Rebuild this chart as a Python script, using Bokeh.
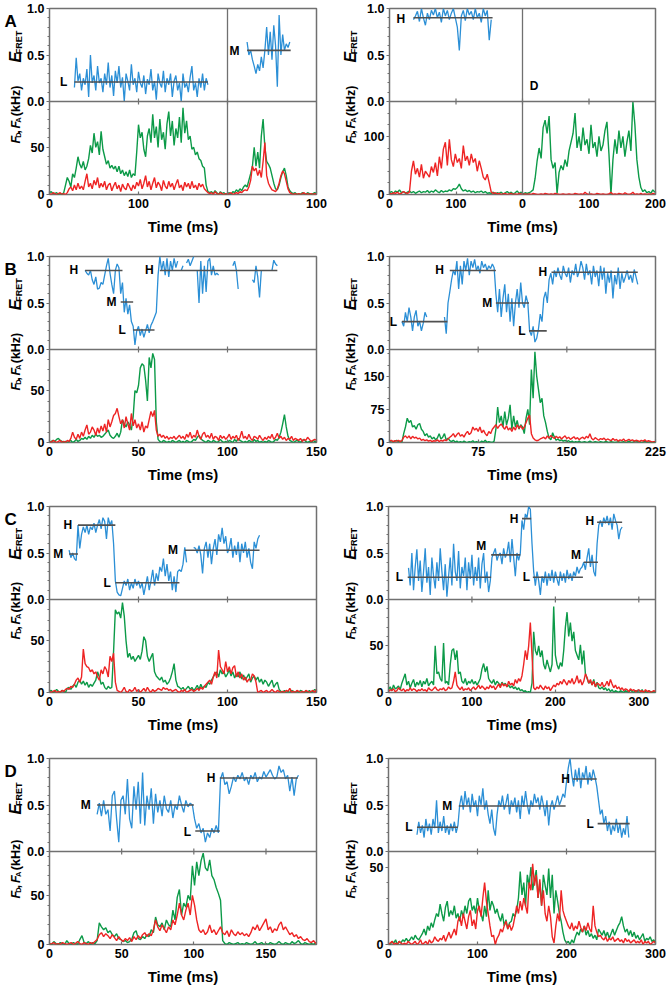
import numpy as np
from bokeh.plotting import figure
from bokeh.layouts import column, row
from bokeh.models import (FixedTicker, Span, CustomJSTickFormatter, Range1d)
from bokeh.embed import file_html
from bokeh.resources import INLINE
from bokeh.core.properties import value

FONT = "Liberation Sans"
BLUE = "#2b8fd6"
GREEN = "#0c9a48"
RED = "#ee2424"
FRAME = "#707070"
LEVEL = "#505050"

# ------------------------------------------------------------------ data
# ---- A, left (two bursts on one broken axis: 0-200 | 0-100) ----
A1_DT = 2.0
A1_E_T0 = 28.0
A1_GREEN = [2, 3, 1, 1, 2, 0, 1, 0, 2, 10,
            18, 14, 8, 22, 18, 28, 40, 32, 28, 35,
            26, 30, 38, 52, 44, 65, 50, 56, 42, 67,
            48, 40, 32, 36, 28, 31, 27, 30, 24, 30,
            22, 26, 20, 24, 19, 26, 18, 22, 20, 45,
            74, 60, 66, 48, 40, 62, 70, 55, 85, 60,
            72, 50, 80, 58, 66, 48, 75, 88, 62, 78,
            52, 70, 60, 82, 55, 92, 65, 78, 58, 62,
            48, 50, 42, 45, 38, 36, 30, 28, 10, 3,
            2, 3, 1, 4, 2, 0, 3, 1, 2, 0,
            1, 2, 0, 3, 2, 5, 3, 6, 4, 8,
            10, 8, 15, 22, 30, 50, 30, 45, 28, 62,
            80, 50, 35, 32, 28, 20, 12, 6, 5, 10,
            18, 24, 28, 20, 8, 4, 2, 1, 2, 0,
            1, 0, 2, 1, 0, 2, 1, 0, 1, 2,
            1]
A1_RED = [1, 0, 2, 1, 0, 1, 2, 0, 1, 0,
          2, 6, 8, 4, 10, 5, 12, 6, 9, 5,
          14, 22, 8, 12, 6, 15, 10, 18, 7, 12,
          8, 14, 5, 10, 12, 4, 9, 13, 6, 10,
          3, 11, 7, 5, 12, 8, 4, 10, 6, 13,
          9, 16, 6, 12, 20, 8, 14, 5, 12, 18,
          7, 13, 10, 4, 15, 9, 6, 14, 8, 12,
          5, 11, 16, 7, 10, 4, 13, 8, 12, 6,
          14, 7, 10, 5, 12, 8, 11, 6, 4, 2,
          1, 2, 0, 3, 1, 0, 2, 1, 0, 1,
          0, 1, 2, 0, 1, 2, 1, 3, 2, 4,
          5, 4, 8, 15, 30, 25, 28, 20, 26, 18,
          35, 55, 20, 12, 8, 5, 4, 3, 6, 12,
          20, 25, 22, 14, 6, 2, 1, 0, 1, 0,
          1, 0, 1, 2, 0, 1, 0, 1, 0, 1,
          0]
A1_EFRET = ([0.15, 0.47, 0.22, 0.30, 0.12, 0.25, 0.18, 0.35, 0.05, 0.50,
             0.20, 0.28, 0.12, 0.38, 0.20, 0.25, 0.10, 0.30, 0.18, 0.42,
             0.15, 0.28, 0.06, 0.33, 0.20, 0.38, 0.15, 0.26, 0.00, 0.30,
             0.22, 0.12, 0.40, 0.18, 0.25, 0.10, 0.32, 0.20, 0.15, 0.28,
             0.08, 0.24, 0.18, 0.35, 0.12, 0.22, 0.02, 0.30, 0.20, 0.15,
             0.33, 0.10, 0.25, 0.18, 0.30, 0.05, 0.22, 0.28, 0.12, 0.20,
             0.00, 0.30, 0.15, 0.20, 0.10, 0.26, 0.38, 0.12, 0.20, 0.05,
             0.25, 0.15, 0.30, 0.12, 0.25, 0.18]
            + [None] * 21 +
            [0.64, 0.50, 0.55, 0.45, 0.38, 0.30, 0.40, 0.33, 0.48, 0.36,
             0.55, 0.80, 0.50, 0.75, 0.45, 0.82, 0.60, 0.16, 0.93, 0.50,
             0.72, 0.55, 0.62, 0.58, 0.64])
A1_LV_START = [28, 222]
A1_LV_END = [178, 271]
A1_LV_VAL = [0.21, 0.55]
A1_LV_TXT = ["L", "M"]
A1_LAB_T = [22.4, 215.7]
A1_LAB_E = [0.21, 0.54]

# ---- A, right (0-200 | 0-200) ----
A2_DT = 3.0
A2_E_T0 = 36.0
A2_GREEN = [3, 5, 2, 6, 4, 8, 3, 5, 2, 4,
            6, 3, 5, 2, 4, 6, 3, 5, 4, 7,
            3, 6, 4, 8, 5, 3, 7, 4, 6, 5,
            8, 6, 10, 9, 12, 18, 10, 6, 8, 5,
            7, 4, 6, 3, 5, 4, 6, 3, 5, 2,
            3, 2, 4, 1, 3, 2, 4, 1, 3, 5,
            2, 4, 1, 3, 6, 2, 4, 1, 3, 2,
            3, 5, 8, 28, 58, 80, 62, 115, 128, 105,
            135, 60, 45, 55, 2, 38, 50, 42, 60, 48,
            75, 90, 105, 140, 80, 100, 75, 115, 85, 95,
            70, 120, 80, 90, 65, 100, 75, 85, 110, 125,
            70, 0, 60, 95, 70, 110, 80, 100, 65, 90,
            110, 75, 160, 120, 60, 30, 12, 5, 8, 3,
            5, 2, 8, 4]
A2_RED = [2, 1, 3, 2, 4, 1, 2, 5, 3, 2,
          4, 40, 58, 35, 45, 30, 52, 28, 40, 35,
          30, 48, 38, 55, 32, 65, 45, 78, 90, 50,
          95, 60, 48, 70, 55, 62, 45, 84, 58, 66,
          50, 70, 55, 62, 40, 58, 45, 30, 25, 35,
          20, 4, 2, 3, 1, 2, 0, 1, 2, 0,
          1, 2, 0, 1, 0, 2, 1, 0, 1, 0,
          1, 0, 2, 1, 0, 0, 1, 0, 2, 1,
          0, 1, 0, 2, 1, 0, 0, 1, 0, 0,
          1, 0, 0, 2, 1, 0, 1, 0, 4, 1,
          0, 1, 0, 0, 2, 1, 0, 1, 0, 0,
          1, 4, 0, 1, 0, 2, 1, 0, 3, 1,
          0, 1, 4, 0, 1, 0, 2, 0, 1, 0,
          1, 0, 2, 1]
A2_EFRET = [0.88, 0.92, 0.97, 0.86, 1.0, 0.90, 0.82, 0.95, 0.88, 0.98,
            0.93, 1.0, 0.90, 0.96, 0.85, 1.0, 0.92, 0.98, 0.88, 0.95,
            1.0, 0.90, 0.80, 0.55, 0.92, 0.98, 0.87, 1.0, 0.93, 0.97,
            0.88, 1.0, 0.90, 0.95, 0.85, 1.0, 0.92, 0.98, 0.66, 0.88]
A2_LV_START = [36]
A2_LV_END = [155]
A2_LV_VAL = [0.90]
A2_LV_TXT = ["H"]
A2_LAB_T = [26.5]
A2_LAB_E = [0.885]
A2_NOTE_T = [217.5]
A2_NOTE_E = [0.17]
A2_NOTE_TXT = ["D"]

# ---- B, left ----
B1_DT = 1.0
B1_E_T0 = 20.0
B1_GREEN = [0, 1, 2, 1, 3, 4, 2, 1, 0, 1,
            0, 1, 2, 0, 1, 3, 1, 2, 4, 3,
            5, 3, 6, 4, 7, 5, 8, 6, 7, 5,
            6, 8, 10, 12, 7, 5, 4, 6, 9, 5,
            10, 22, 18, 15, 20, 17, 12, 25, 50, 48,
            55, 72, 76, 74, 60, 40, 82, 72, 86, 80,
            20, 3, 1, 0, 2, 1, 0, 1, 0, 2,
            1, 0, 1, 2, 0, 1, 0, 2, 1, 0,
            1, 3, 2, 5, 7, 4, 2, 1, 0, 2,
            1, 0, 2, 1, 0, 1, 3, 1, 0, 1,
            0, 2, 1, 0, 3, 1, 4, 2, 1, 0,
            1, 0, 2, 1, 0, 3, 1, 2, 0, 1,
            0, 1, 0, 2, 1, 0, 1, 3, 2, 5,
            10, 18, 27, 15, 6, 2, 1, 0, 1, 2,
            1, 0, 2, 3, 1, 0, 1, 0, 2, 1,
            0]
B1_RED = [1, 0, 2, 1, 0, 1, 2, 0, 1, 0,
          2, 1, 4, 10, 5, 3, 8, 4, 10, 6,
          12, 17, 8, 10, 15, 12, 7, 14, 9, 16,
          11, 18, 10, 22, 15, 20, 26, 28, 33, 25,
          18, 22, 14, 25, 18, 12, 28, 16, 22, 14,
          18, 12, 20, 10, 16, 14, 22, 30, 25, 31,
          12, 6, 8, 5, 7, 4, 6, 3, 5, 4,
          6, 3, 5, 7, 4, 6, 3, 8, 5, 10,
          4, 7, 5, 12, 6, 3, 8, 10, 5, 7,
          4, 9, 3, 6, 5, 2, 7, 4, 6, 3,
          5, 8, 3, 6, 4, 7, 2, 5, 11, 4,
          6, 3, 8, 4, 2, 6, 5, 3, 7, 4,
          2, 5, 3, 6, 4, 8, 3, 5, 9, 4,
          6, 3, 5, 2, 4, 3, 6, 2, 4, 3,
          2, 4, 1, 3, 2, 5, 3, 1, 2, 3,
          2]
B1_EFRET = [0.85, 0.82, 0.80, 0.85, 0.75, 0.70, 0.78, 0.65, 0.66, 0.72,
            0.70, 0.80, 0.90, 0.98, 0.82, 0.70, 0.60, 0.85, 0.92, 0.88,
            0.60, 0.72, 0.40, 0.55, 0.38, 0.48, 0.30, 0.25, 0.05, 0.20,
            0.25, 0.15, 0.22, 0.13, 0.20, 0.27, 0.18, 0.26, 0.30, 0.35,
            0.40, 0.80, 1.0, 0.85, 0.95, 0.80, 0.98, 0.78, 0.95, 0.85,
            0.98, 0.88, 0.95, None, 0.85, 0.90, None, 0.93, 0.97, 0.90,
            0.95, 1.0, None, 0.85, 0.50, 0.95, 0.60, 0.90, 0.62, 0.95,
            0.98, 0.80, 0.90, 0.80, 0.82, 0.80, None, None, None, None,
            None, None, None, 0.90, 0.95, 0.85, 0.65, None, None, None,
            None, None, None, None, 0.75, 0.72, 0.90, 0.78, 0.56, 0.85,
            None, None, None, None, None, 0.85, 0.96, 0.92, 0.90]
B1_LV_START = [20, 40, 47, 62]
B1_LV_END = [41, 47, 59, 128]
B1_LV_VAL = [0.85, 0.51, 0.21, 0.85]
B1_LV_TXT = ["H", "M", "L", "H"]
B1_LAB_T = [17.2, 38.7, 44.0, 59.7]
B1_LAB_E = [0.85, 0.51, 0.21, 0.85]

# ---- B, right ----
B2_DT = 1.5
B2_E_T0 = 10.5
B2_GREEN = [2, 4, 1, 3, 5, 2, 3, 1, 20, 35,
            55, 45, 50, 35, 38, 30, 40, 43, 30, 25,
            15, 20, 12, 15, 8, 12, 6, 10, 20, 8,
            12, 20, 5, 10, 4, 2, 5, 1, 3, 0,
            2, 0, 3, 1, 0, 2, 1, 4, 0, 2,
            1, 0, 3, 1, 5, 0, 2, 1, 0, 3,
            30, 80, 45, 60, 35, 70, 40, 55, 85, 30,
            60, 35, 50, 30, 40, 35, 20, 55, 75, 40,
            165, 100, 205, 150, 120, 90, 100, 60, 45, 25,
            10, 6, 22, 12, 5, 8, 4, 6, 3, 5,
            2, 4, 1, 3, 0, 2, 1, 3, 0, 1,
            2, 0, 1, 3, 1, 0, 2, 1, 0, 2,
            1, 0, 3, 1, 0, 2, 1, 0, 1, 2,
            0, 1, 2, 0, 1, 3, 1, 0, 2, 4,
            1, 2, 0, 1, 3, 1, 0, 2, 1, 0,
            1]
B2_RED = [3, 5, 2, 4, 3, 5, 2, 4, 12, 15,
          10, 15, 8, 14, 10, 12, 8, 10, 5, 7,
          4, 6, 3, 5, 2, 4, 3, 6, 2, 5,
          3, 6, 4, 8, 12, 15, 20, 12, 18, 22,
          14, 18, 12, 20, 25, 18, 22, 35, 28, 32,
          25, 35, 22, 28, 20, 15, 25, 20, 30, 35,
          40, 32, 38, 42, 35, 30, 38, 28, 33, 25,
          35, 28, 40, 32, 38, 30, 35, 45, 55, 62,
          20, 10, 6, 4, 5, 8, 10, 12, 8, 15,
          10, 16, 12, 9, 14, 10, 13, 8, 12, 15,
          9, 12, 7, 10, 13, 8, 11, 6, 10, 12,
          8, 14, 10, 20, 9, 6, 11, 8, 5, 9,
          7, 10, 5, 8, 6, 4, 9, 5, 7, 3,
          6, 4, 8, 3, 5, 7, 4, 6, 3, 5,
          4, 2, 5, 3, 6, 2, 4, 3, 1, 2,
          2]
B2_EFRET = [0.30, 0.25, 0.40, 0.30, 0.45, 0.35, 0.20, 0.35, 0.42, 0.25,
            0.30, 0.20, 0.28, 0.40, 0.35, None, None, None, None, None,
            None, None, None, None, 0.35, 0.17, 0.50, 0.62, 0.75, 0.85,
            0.80, 0.95, 0.65, 0.90, 0.70, 0.95, 0.85, 0.98, 0.80, 0.95,
            0.88, 0.97, 0.85, 0.90, 0.82, 0.95, 0.88, 0.92, 0.85, 0.90,
            0.87, 0.92, 0.88, 0.60, 0.40, 0.65, 0.35, 0.55, 0.70, 0.40,
            0.60, 0.30, 0.55, 0.25, 0.50, 0.65, 0.45, 0.72, 0.50, 0.45,
            0.58, 0.50, 0.20, 0.15, 0.25, 0.08, 0.12, 0.22, 0.38, 0.30,
            0.55, 0.62, 0.50, 0.75, 0.82, 0.70, 0.85, 0.78, 0.88, 0.80,
            0.75, 0.90, 0.82, 0.78, 0.88, 0.72, 0.85, 0.80, 0.92, 0.78,
            0.84, 0.95, 0.88, 0.75, 0.92, 0.80, 0.85, 0.70, 0.90, 0.78,
            0.85, 0.68, 0.90, 0.75, 0.88, 0.60, 0.82, 0.72, 0.85, 0.55,
            0.80, 0.70, 0.88, 0.65, 0.82, 0.72, 0.78, 0.85, 0.75, 0.80,
            0.72, 0.86, 0.78, 0.70]
B2_LV_START = [10.5, 51, 90, 118, 137]
B2_LV_END = [49, 90, 118, 133, 210]
B2_LV_VAL = [0.30, 0.85, 0.50, 0.20, 0.83]
B2_LV_TXT = ["L", "H", "M", "L", "H"]
B2_LAB_T = [8.2, 47.8, 88.6, 116.8, 135.0]
B2_LAB_E = [0.30, 0.85, 0.50, 0.20, 0.83]

# ---- C, left ----
C1_DT = 1.0
C1_E_T0 = 11.0
C1_GREEN = [1, 2, 0, 1, 3, 1, 0, 2, 1, 0,
            4, 5, 3, 6, 8, 5, 10, 12, 8, 11,
            7, 10, 5, 8, 6, 9, 12, 20, 15, 8,
            10, 5, 3, 6, 4, 5, 40, 80, 76, 78,
            72, 87, 74, 50, 34, 38, 32, 35, 30, 33,
            36, 32, 40, 54, 50, 35, 30, 34, 38, 20,
            16, 14, 12, 15, 10, 12, 8, 10, 14, 20,
            28, 12, 6, 5, 3, 5, 2, 4, 6, 3,
            5, 2, 4, 7, 3, 8, 4, 6, 5, 10,
            8, 12, 15, 18, 20, 15, 22, 18, 20, 15,
            18, 22, 16, 20, 14, 18, 15, 20, 13, 17,
            12, 15, 18, 10, 14, 16, 12, 15, 10, 13,
            8, 12, 10, 6, 9, 12, 5, 8, 10, 3,
            1, 0, 2, 0, 1, 0, 2, 1, 0, 1,
            0, 2, 1, 0, 1, 0, 2, 0, 1, 3,
            1]
C1_RED = [1, 0, 1, 2, 0, 1, 0, 2, 1, 3,
          4, 3, 6, 5, 8, 12, 14, 10, 15, 42,
          28, 25, 24, 20, 22, 18, 20, 15, 12, 22,
          18, 25, 22, 15, 35, 30, 38, 10, 2, 1,
          0, 2, 5, 1, 0, 3, 1, 2, 5, 1,
          3, 0, 2, 4, 1, 5, 2, 0, 3, 1,
          2, 4, 3, 2, 5, 3, 4, 2, 3, 1,
          2, 3, 1, 0, 2, 1, 3, 0, 1, 2,
          3, 1, 2, 4, 2, 5, 3, 6, 8, 10,
          12, 8, 15, 20, 14, 41, 25, 22, 18, 30,
          20, 25, 18, 24, 26, 15, 20, 14, 18, 12,
          15, 10, 13, 12, 18, 16, 10, 0, 1, 2,
          0, 1, 2, 0, 1, 3, 1, 0, 2, 1,
          0, 1, 0, 2, 1, 4, 0, 1, 0, 2,
          1, 0, 1, 0, 2, 1, 0, 1, 2, 0,
          3]
C1_EFRET = [0.53, 0.45, 0.50, 0.44, 0.42, 0.80, 0.55, 0.70, 0.78, 0.72,
            0.80, 0.70, 0.78, 0.75, 0.82, 0.72, 0.80, 0.86, 0.76, 0.88,
            0.84, 0.65, 0.88, 0.80, 0.85, 0.60, 0.20, 0.08, 0.05, 0.04,
            0.12, 0.20, 0.15, 0.22, 0.10, 0.18, 0.12, 0.22, 0.15, 0.20,
            0.12, 0.18, 0.05, 0.15, 0.25, 0.10, 0.20, 0.32, 0.15, 0.28,
            0.20, 0.35, 0.30, 0.44, 0.25, 0.38, 0.20, 0.30, 0.10, 0.25,
            0.08, 0.30, 0.32, 0.30, 0.38, 0.56, 0.40, None, None, None,
            0.56, 0.55, 0.50, 0.58, 0.48, 0.28, 0.55, 0.62, 0.45, 0.60,
            0.38, 0.55, 0.65, 0.48, 0.70, 0.62, 0.77, 0.60, 0.68, 0.50,
            0.55, 0.66, 0.45, 0.58, 0.48, 0.62, 0.40, 0.60, 0.50, 0.62,
            0.45, 0.55, 0.40, 0.33, 0.62, 0.55, 0.65, 0.69]
C1_LV_START = [11, 16, 37, 76]
C1_LV_END = [16, 37, 73, 118]
C1_LV_VAL = [0.49, 0.80, 0.18, 0.53]
C1_LV_TXT = ["M", "H", "L", "M"]
C1_LAB_T = [8.8, 13.9, 35.6, 73.3]
C1_LAB_E = [0.49, 0.80, 0.18, 0.53]

# ---- C, right ----
C2_DT = 2.0
C2_E_T0 = 24.0
C2_GREEN = [3, 6, 2, 8, 4, 5, 7, 3, 10, 15,
            20, 8, 12, 5, 10, 14, 6, 11, 8, 13,
            6, 12, 9, 15, 7, 10, 12, 8, 50, 20,
            22, 15, 12, 53, 10, 12, 8, 30, 45, 47,
            35, 45, 20, 22, 12, 10, 15, 8, 12, 10,
            14, 9, 12, 8, 11, 15, 25, 31, 22, 28,
            15, 12, 10, 14, 8, 12, 10, 7, 11, 8,
            10, 6, 8, 5, 7, 4, 6, 3, 5, 2,
            3, 1, 2, 0, 1, 0, 10, 65, 45, 40,
            50, 38, 45, 30, 25, 35, 28, 22, 30, 92,
            40, 30, 25, 32, 28, 45, 70, 86, 60, 75,
            55, 65, 45, 40, 35, 51, 30, 45, 20, 15,
            10, 12, 8, 14, 6, 11, 5, 4, 6, 3,
            5, 2, 4, 1, 3, 0, 2, 1, 0, 2,
            1, 0, 2, 1, 0, 3, 1, 0, 2, 1,
            0, 1, 3, 0, 1, 0, 2, 1, 0, 1,
            0]
C2_RED = [1, 3, 2, 4, 1, 2, 5, 3, 2, 4,
          1, 3, 2, 5, 2, 4, 3, 1, 3, 2,
          4, 2, 3, 1, 5, 3, 2, 4, 6, 3,
          2, 4, 3, 5, 2, 3, 6, 4, 5, 12,
          22, 8, 5, 3, 6, 2, 4, 3, 5, 2,
          4, 6, 3, 5, 8, 4, 7, 5, 3, 6,
          4, 8, 5, 7, 3, 6, 9, 5, 10, 7,
          9, 6, 12, 8, 10, 7, 14, 10, 15, 12,
          18, 30, 45, 35, 50, 75, 40, 5, 3, 6,
          4, 8, 5, 3, 7, 4, 6, 2, 5, 8,
          6, 10, 8, 12, 9, 14, 11, 8, 13, 10,
          15, 9, 12, 18, 10, 14, 8, 12, 20, 16,
          10, 14, 8, 12, 6, 10, 9, 7, 11, 6,
          8, 12, 7, 14, 9, 5, 8, 4, 6, 3,
          5, 2, 4, 3, 1, 4, 2, 3, 1, 2,
          3, 1, 2, 0, 3, 1, 2, 0, 1, 2,
          1]
C2_EFRET = [0.34, 0.15, 0.50, 0.10, 0.35, 0.54, 0.20, 0.42, 0.08, 0.30,
            0.55, 0.18, 0.35, 0.05, 0.45, 0.25, 0.12, 0.40, 0.20, 0.55,
            0.30, 0.10, 0.38, 0.03, 0.25, 0.45, 0.15, 0.60, 0.30, 0.20,
            0.52, 0.12, 0.35, 0.25, 0.45, 0.10, 0.40, 0.22, 0.48, 0.15,
            0.35, 0.20, 0.45, 0.12, 0.38, 0.50, 0.18, 0.30, 0.08, 0.20,
            0.45, 0.50, 0.55, 0.42, 0.48, 0.50, 0.38, 0.55, 0.45, 0.50,
            0.62, 0.40, 0.65, 0.45, 0.25, 0.50, 0.42, 0.50, 0.85, 0.75,
            0.92, 0.88, 1.0, 0.97, 0.60, 0.30, 0.15, 0.30, 0.20, 0.05,
            0.25, 0.18, 0.30, 0.15, 0.28, 0.20, 0.32, 0.18, 0.30, 0.22,
            0.15, 0.30, 0.20, 0.28, 0.18, 0.32, 0.22, 0.28, 0.20, 0.30,
            0.25, 0.35, 0.28, 0.33, 0.35, 0.40, 0.32, 0.45, 0.55, 0.35,
            0.48, 0.30, 0.25, 0.60, 0.80, 0.85, 0.78, 0.88, 0.82, 0.90,
            0.80, 0.88, 0.75, 0.92, 0.85, 0.80, 0.65, 0.75, 0.78]
C2_LV_START = [23, 123, 160, 173, 234, 250]
C2_LV_END = [123, 158, 171, 233, 251, 280]
C2_LV_VAL = [0.24, 0.48, 0.87, 0.24, 0.40, 0.83]
C2_LV_TXT = ["L", "M", "H", "L", "M", "H"]
C2_LAB_T = [20.0, 119.5, 158.0, 172.0, 233.0, 249.0]
C2_LAB_E = [0.24, 0.58, 0.87, 0.24, 0.48, 0.84]

# ---- D, left ----
D1_DT = 1.5
D1_E_T0 = 33.0
D1_GREEN = [1, 0, 3, 1, 0, 2, 1, 0, 4, 1,
            0, 2, 1, 0, 5, 9, 2, 1, 3, 0,
            2, 1, 4, 22, 18, 15, 17, 12, 14, 10,
            8, 11, 6, 5, 3, 4, 2, 3, 5, 12,
            14, 6, 5, 8, 6, 10, 8, 15, 12, 28,
            20, 18, 22, 15, 25, 20, 18, 35, 25, 48,
            56, 30, 42, 38, 50, 45, 80, 60, 84, 70,
            85, 93, 78, 75, 86, 70, 66, 58, 52, 45,
            4, 1, 0, 2, 1, 0, 1, 2, 0, 1,
            0, 2, 1, 0, 1, 3, 0, 1, 2, 0,
            1, 0, 2, 1, 0, 1, 3, 1, 0, 2,
            1, 0, 3, 1, 2, 4, 1, 0, 2, 1,
            0, 1, 0, 2]
D1_RED = [0, 1, 2, 0, 1, 0, 2, 1, 0, 1,
          2, 0, 1, 3, 1, 0, 2, 1, 0, 2,
          1, 3, 5, 10, 12, 8, 11, 9, 6, 10,
          7, 4, 8, 5, 3, 6, 4, 7, 3, 8,
          5, 9, 6, 10, 12, 8, 11, 9, 15, 25,
          18, 14, 20, 16, 12, 18, 15, 25, 20, 30,
          42, 30, 25, 35, 42, 30, 50, 40, 25, 15,
          12, 15, 10, 13, 20, 12, 15, 10, 14, 18,
          12, 10, 14, 8, 15, 11, 9, 13, 10, 12,
          9, 11, 8, 12, 18, 15, 20, 14, 18, 22,
          26, 15, 18, 12, 16, 14, 20, 23, 15, 18,
          14, 10, 12, 8, 10, 6, 8, 5, 4, 6,
          3, 2, 4, 1]
D1_EFRET = [0.40, 0.52, 0.38, 0.55, 0.40, 0.45, 0.22, 0.60, 0.65, 0.35,
            0.10, 0.55, 0.60, 0.40, 0.78, 0.35, 0.25, 0.70, 0.45, 0.75,
            0.30, 0.85, 0.28, 0.60, 0.45, 0.68, 0.30, 0.62, 0.42, 0.55,
            0.38, 0.60, 0.46, 0.42, 0.55, 0.36, 0.50, 0.45, 0.60, 0.50,
            0.42, 0.55, 0.48, 0.52, 0.50, 0.35, 0.25, 0.30, 0.20, 0.25,
            0.10, 0.20, 0.15, 0.25, 0.20, 0.28, 0.20, 0.78, 0.85, 0.72,
            0.75, 0.62, 0.70, 0.80, 0.75, 0.82, 0.78, 0.85, 0.76, 0.80,
            0.72, 0.82, 0.78, 0.85, 0.75, 0.80, 0.78, 0.86, 0.80, 0.84,
            0.88, 0.82, 0.78, 0.80, 0.92, 0.85, 0.88, 0.78, 0.82, 0.65,
            0.80, 0.60, 0.78, 0.82]
D1_LV_START = [33, 101, 118]
D1_LV_END = [100, 118, 172]
D1_LV_VAL = [0.50, 0.22, 0.79]
D1_LV_TXT = ["M", "L", "H"]
D1_LAB_T = [30.0, 99.5, 116.3]
D1_LAB_E = [0.50, 0.21, 0.79]

# ---- D, right ----
D2_DT = 2.0
D2_E_T0 = 32.0
D2_GREEN = [1, 0, 2, 1, 3, 0, 2, 1, 3, 2,
            4, 2, 3, 5, 3, 6, 4, 3, 5, 7,
            10, 6, 12, 9, 14, 11, 16, 20, 18, 26,
            20, 15, 24, 28, 18, 22, 19, 25, 17, 20,
            15, 22, 18, 25, 20, 28, 30, 22, 25, 20,
            30, 22, 20, 15, 25, 18, 35, 22, 28, 25,
            20, 23, 18, 15, 20, 12, 16, 10, 14, 15,
            20, 18, 22, 30, 47, 32, 40, 25, 45, 38,
            50, 35, 42, 48, 30, 40, 25, 45, 38, 32,
            49, 30, 45, 20, 35, 28, 20, 15, 8, 3,
            1, 2, 0, 3, 1, 5, 8, 6, 10, 8,
            12, 6, 9, 5, 7, 4, 6, 3, 10, 8,
            6, 9, 5, 8, 4, 7, 10, 6, 9, 12,
            14, 18, 12, 8, 10, 6, 9, 5, 8, 4,
            6, 3, 5, 7, 2, 4, 3, 5, 2, 3,
            1]
D2_RED = [0, 1, 2, 0, 1, 0, 2, 1, 0, 1,
          0, 2, 1, 0, 1, 2, 0, 1, 3, 0,
          1, 2, 0, 3, 1, 2, 5, 3, 2, 4,
          3, 6, 2, 5, 8, 4, 7, 10, 6, 15,
          18, 12, 20, 15, 10, 18, 22, 12, 16, 10,
          22, 25, 18, 30, 40, 28, 20, 12, 5, 6,
          0, 4, 6, 10, 8, 12, 15, 10, 13, 9,
          12, 18, 25, 20, 28, 22, 30, 25, 20, 40,
          35, 52, 38, 45, 30, 42, 25, 35, 20, 15,
          25, 18, 5, 1, 12, 20, 15, 35, 22, 18,
          15, 12, 10, 14, 9, 12, 10, 15, 11, 8,
          12, 9, 14, 10, 8, 25, 12, 8, 5, 6,
          4, 3, 5, 2, 4, 3, 5, 2, 3, 4,
          2, 3, 1, 4, 2, 3, 1, 2, 3, 1,
          2, 1, 3, 0, 2, 1, 2, 0, 1, 2,
          1]
D2_EFRET = [0.18, 0.32, 0.20, 0.28, 0.15, 0.35, 0.22, 0.30, 0.18, 0.35,
            0.25, 0.55, 0.20, 0.32, 0.22, 0.38, 0.20, 0.28, 0.18, 0.30,
            0.22, 0.32, 0.20, 0.28, 0.50, 0.60, 0.45, 0.65, 0.50, 0.58,
            0.42, 0.62, 0.48, 0.55, 0.38, 0.60, 0.50, 0.68, 0.45, 0.55,
            0.40, 0.30, 0.45, 0.25, 0.17, 0.40, 0.55, 0.48, 0.60, 0.45,
            0.52, 0.62, 0.40, 0.55, 0.48, 0.58, 0.42, 0.55, 0.35, 0.60,
            0.48, 0.65, 0.50, 0.40, 0.55, 0.48, 0.62, 0.52, 0.58, 0.45,
            0.60, 0.50, 0.38, 0.55, 0.28, 0.48, 0.55, 0.45, 0.52, 0.60,
            0.50, 0.55, 0.62, 0.58, 0.75, 0.90, 1.0, 0.82, 0.70, 0.88,
            0.75, 0.90, 0.68, 0.85, 0.78, 0.92, 0.72, 0.85, 0.76, 0.88,
            0.80, 0.70, 0.55, 0.40, 0.45, 0.30, 0.38, 0.22, 0.32, 0.18,
            0.28, 0.22, 0.35, 0.20, 0.30, 0.15, 0.25, 0.18, 0.38, 0.15]
D2_LV_START = [32, 79, 207, 235]
D2_LV_END = [78, 199, 234, 271]
D2_LV_VAL = [0.26, 0.49, 0.78, 0.30]
D2_LV_TXT = ["L", "M", "H", "L"]
D2_LAB_T = [29.2, 74.0, 206.0, 233.0]
D2_LAB_E = [0.26, 0.49, 0.78, 0.30]

# ------------------------------------------------------------------ chart specs
CHARTS = [
    dict(letter="A", dt=A1_DT, e0=A1_E_T0, g=A1_GREEN, r=A1_RED, e=A1_EFRET,
         lvs=A1_LV_START, lve=A1_LV_END, lvv=A1_LV_VAL, lvt=A1_LV_TXT, lt=A1_LAB_T, le=A1_LAB_E,
         xmax=300, fmax=98.6, xticks=[0, 100, 200, 300], fticks=[0, 50], fminor=10, split=True),
    dict(letter=None, dt=A2_DT, e0=A2_E_T0, g=A2_GREEN, r=A2_RED, e=A2_EFRET,
         lvs=A2_LV_START, lve=A2_LV_END, lvv=A2_LV_VAL, lvt=A2_LV_TXT, lt=A2_LAB_T, le=A2_LAB_E,
         xmax=400, fmax=160, xticks=[0, 100, 200, 300, 400], fticks=[0, 100], fminor=20, split=True,
         note=(A2_NOTE_T, A2_NOTE_E, A2_NOTE_TXT)),
    dict(letter="B", dt=B1_DT, e0=B1_E_T0, g=B1_GREEN, r=B1_RED, e=B1_EFRET,
         lvs=B1_LV_START, lve=B1_LV_END, lvv=B1_LV_VAL, lvt=B1_LV_TXT, lt=B1_LAB_T, le=B1_LAB_E,
         xmax=150, fmax=89.7, xticks=[0, 50, 100, 150], fticks=[0, 50], fminor=10, split=False),
    dict(letter=None, dt=B2_DT, e0=B2_E_T0, g=B2_GREEN, r=B2_RED, e=B2_EFRET,
         lvs=B2_LV_START, lve=B2_LV_END, lvv=B2_LV_VAL, lvt=B2_LV_TXT, lt=B2_LAB_T, le=B2_LAB_E,
         xmax=225, fmax=210, xticks=[0, 75, 150, 225], fticks=[0, 75, 150], fminor=25, split=False),
    dict(letter="C", dt=C1_DT, e0=C1_E_T0, g=C1_GREEN, r=C1_RED, e=C1_EFRET,
         lvs=C1_LV_START, lve=C1_LV_END, lvv=C1_LV_VAL, lvt=C1_LV_TXT, lt=C1_LAB_T, le=C1_LAB_E,
         xmax=150, fmax=90, xticks=[0, 50, 100, 150], fticks=[0, 50], fminor=10, split=False),
    dict(letter=None, dt=C2_DT, e0=C2_E_T0, g=C2_GREEN, r=C2_RED, e=C2_EFRET,
         lvs=C2_LV_START, lve=C2_LV_END, lvv=C2_LV_VAL, lvt=C2_LV_TXT, lt=C2_LAB_T, le=C2_LAB_E,
         xmax=320, fmax=99.6, xticks=[0, 100, 200, 300], fticks=[0, 50], fminor=10, split=False),
    dict(letter="D", dt=D1_DT, e0=D1_E_T0, g=D1_GREEN, r=D1_RED, e=D1_EFRET,
         lvs=D1_LV_START, lve=D1_LV_END, lvv=D1_LV_VAL, lvt=D1_LV_TXT, lt=D1_LAB_T, le=D1_LAB_E,
         xmax=185, fmax=94.6, xticks=[0, 50, 100, 150], fticks=[0, 50], fminor=10, split=False),
    dict(letter=None, dt=D2_DT, e0=D2_E_T0, g=D2_GREEN, r=D2_RED, e=D2_EFRET,
         lvs=D2_LV_START, lve=D2_LV_END, lvv=D2_LV_VAL, lvt=D2_LV_TXT, lt=D2_LAB_T, le=D2_LAB_E,
         xmax=300, fmax=60, xticks=[0, 100, 200, 300], fticks=[0, 50], fminor=10, split=False),
]

# ------------------------------------------------------------------ layout constants
FH = 93                 # height of each of the two stacked panels
FW = [268, 267]         # frame widths (left / right column)
STRIP_W = [24, 32]      # width of the y-label strip
BORDER_L = [24, 28]
BORDER_R = [12, 12]
TOP = 8
BOTTOM = [54, 56, 58, 45]
YLAB_BASE = [15.0, 22.0]  # baseline position of rotated y labels inside strip
TICK_HALF = 3.0 / FH      # 3 px, in units of the (-1, 1) stacked y range


def arr(v):
    return np.array([np.nan if x is None else x for x in v], dtype=float)


def strip_fig(width, height, y0, y1):
    s = figure(width=width, height=height, x_range=Range1d(0, width), y_range=Range1d(y0, y1),
               output_backend="svg", toolbar_location=None, tools="", title=None,
               x_axis_location=None, y_axis_location=None,
               min_border_left=0, min_border_right=0, min_border_top=0, min_border_bottom=0,
               background_fill_color="white", border_fill_color="white")
    s.outline_line_color = None
    s.grid.visible = False
    return s


def rot_text(s, x, y, text, style, size):
    s.text(x=[x], y=[y], text=[text], angle=np.pi / 2, text_align="left",
           text_baseline="alphabetic", text_font=value(FONT), text_font_style=style,
           text_font_size=f"{size}px", text_color="black")


def ylabel_E(s, xb):
    y0 = FH / 2 - 17.6
    rot_text(s, xb, y0, "E", "bold italic", 16)
    rot_text(s, xb + 3.5, y0 + 11.2, "FRET", "bold", 9)


def ylabel_F(s, xb, m=12.5, sub=7.5):
    parts = [("F", "bold italic", m, 0.0, 0.611 * m),
             ("D", "bold", sub, 3.0, 0.722 * sub),
             (",", "bold", m, 0.0, 0.556 * m),
             ("F", "bold italic", m, 0.0, 0.611 * m),
             ("A", "bold", sub, 3.0, 0.722 * sub + 0.278 * m),
             ("(kHz)", "bold", m, 0.0, 2.444 * m)]
    total = sum(p_[4] for p_ in parts)
    y = -FH / 2 + 1 - total / 2
    for txt, style, size, dx, w in parts:
        rot_text(s, xb + dx, y, txt, style, size)
        y += w


def make_chart(c, col, r):
    left, right, fw = BORDER_L[col], BORDER_R[col], FW[col]
    fmax = c["fmax"]

    # one figure: upper half = E_FRET (default range, 0..1 on top),
    # lower half = F_D/F_A on an extra range whose 0 is the bottom and fmax the middle
    p = figure(width=left + fw + right, height=TOP + 2 * FH + BOTTOM[r],
               x_range=Range1d(0, c["xmax"]), y_range=Range1d(-1, 1),
               output_backend="svg", toolbar_location=None, tools="", title=None,
               min_border_left=left, min_border_right=right,
               min_border_top=TOP, min_border_bottom=BOTTOM[r],
               background_fill_color="white", border_fill_color="white")
    p.extra_y_ranges = {"F": Range1d(0, 2 * fmax)}
    p.grid.visible = False
    p.outline_line_color = FRAME
    p.outline_line_width = 1.5

    # ---- left axis: E ticks on top half, F ticks (mapped) on bottom half
    e_ticks = [0.0, 0.5, 1.0]
    e_minor = [0.1, 0.2, 0.3, 0.4, 0.6, 0.7, 0.8, 0.9]
    f_ticks = [f / fmax - 1.0 for f in c["fticks"]]
    fm = c["fminor"]
    f_minor = [float(v) / fmax - 1.0 for v in np.arange(fm, fmax, fm) if v not in c["fticks"]]
    ya = p.yaxis[0]
    ya.ticker = FixedTicker(ticks=e_ticks + f_ticks, minor_ticks=e_minor + f_minor)
    ya.formatter = CustomJSTickFormatter(
        args=dict(fmax=fmax),
        code="if (tick > -1e-6) { return tick.toFixed(1); } "
             "return String(Math.round((tick + 1) * fmax));")
    ya.axis_line_color = None
    ya.major_tick_line_color = FRAME
    ya.minor_tick_line_color = FRAME
    ya.major_tick_line_width = 1.2
    ya.minor_tick_line_width = 1.0
    ya.major_tick_out = 3
    ya.major_tick_in = 0
    ya.minor_tick_out = 2
    ya.minor_tick_in = 0
    ya.major_label_standoff = 2
    ya.major_label_text_font = FONT
    ya.major_label_text_font_style = "bold"
    ya.major_label_text_font_size = "12.5px"
    ya.major_label_text_color = "black"

    # ---- bottom axis
    xa = p.xaxis[0]
    xa.ticker = FixedTicker(ticks=c["xticks"])
    if c["split"]:
        xa.formatter = CustomJSTickFormatter(
            code="return String(tick >= 200 ? tick - 200 : tick);")
    xa.axis_line_color = None
    xa.major_tick_line_color = FRAME
    xa.major_tick_line_width = 1.2
    xa.major_tick_in = 3
    xa.major_tick_out = 0
    xa.minor_tick_in = 0
    xa.minor_tick_out = 0
    xa.major_label_standoff = 4
    xa.major_label_text_font = FONT
    xa.major_label_text_font_style = "bold"
    xa.major_label_text_font_size = "12.5px"
    xa.major_label_text_color = "black"
    xa.axis_label = "Time (ms)"
    xa.axis_label_text_font = FONT
    xa.axis_label_text_font_style = "bold"
    xa.axis_label_text_font_size = "15px"
    xa.axis_label_text_color = "black"
    xa.axis_label_standoff = 7

    # ---- F_D (green), F_A (red)
    tg = c["dt"] * np.arange(len(c["g"]))
    tr = c["dt"] * np.arange(len(c["r"]))
    p.line(tg, arr(c["g"]), y_range_name="F", line_color=GREEN, line_width=1.4)
    p.line(tr, arr(c["r"]), y_range_name="F", line_color=RED, line_width=1.4)

    # ---- panel divider and its tick marks
    p.add_layout(Span(location=0, dimension="width", line_color=FRAME, line_width=1.6))
    inner = [t for t in c["xticks"] if 0 < t < c["xmax"]]
    p.segment(x0=inner, x1=inner, y0=[-TICK_HALF] * len(inner), y1=[TICK_HALF] * len(inner),
              line_color=FRAME, line_width=1.2)
    if c["split"]:
        p.add_layout(Span(location=200, dimension="height", line_color=FRAME, line_width=1.3))

    # ---- E_FRET (blue), levels and their labels
    te = c["e0"] + c["dt"] * np.arange(len(c["e"]))
    p.line(te, arr(c["e"]), line_color=BLUE, line_width=1.3)
    p.segment(x0=c["lvs"], x1=c["lve"], y0=c["lvv"], y1=c["lvv"],
              line_color=LEVEL, line_width=1.6)
    p.text(x=c["lt"], y=c["le"], text=c["lvt"], x_offset=-2,
           text_align="right", text_baseline="middle",
           text_font=value(FONT), text_font_style="bold", text_font_size="12px",
           text_color="black")
    if "note" in c:
        nt, ne, ntxt = c["note"]
        p.text(x=nt, y=ne, text=ntxt, text_align="center", text_baseline="middle",
               text_font=value(FONT), text_font_style="bold", text_font_size="12px",
               text_color="black")

    # ---- label strip (y labels + panel letter), 0 = E/F boundary, 1 unit = 1 px
    s = strip_fig(STRIP_W[col], TOP + 2 * FH + BOTTOM[r], -FH - BOTTOM[r], FH + TOP)
    ylabel_E(s, YLAB_BASE[col])
    ylabel_F(s, YLAB_BASE[col])
    if c["letter"]:
        s.text(x=[4], y=[FH - 9], text=[c["letter"]], text_align="left",
               text_baseline="alphabetic", text_font=value(FONT), text_font_style="bold",
               text_font_size="17px", text_color="black")

    return row(s, p)


rows = []
for r in range(4):
    left = make_chart(CHARTS[2 * r], 0, r)
    right = make_chart(CHARTS[2 * r + 1], 1, r)
    rows.append(row(left, right))
layout = column(*rows)

open("out.html", "w").write(file_html(layout, INLINE, title="smFRET traces"))
